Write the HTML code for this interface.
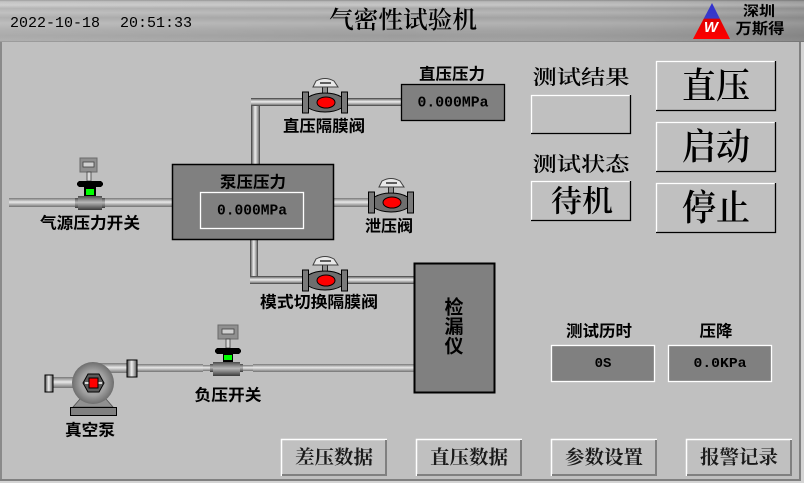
<!DOCTYPE html>
<html><head><meta charset="utf-8">
<style>
html,body{margin:0;padding:0;background:#d4d4d4;}
svg{display:block;}
.s{font-family:"Liberation Sans","Noto Sans CJK SC",sans-serif;font-weight:700;fill:#000;}
.r{font-family:"Liberation Serif","Noto Serif CJK SC",serif;fill:#111;}
.m{font-family:"Liberation Mono","Noto Sans CJK SC",monospace;fill:#000;}
</style></head>
<body>
<svg width="804" height="483" viewBox="0 0 804 483" xmlns="http://www.w3.org/2000/svg">
<defs>
 <linearGradient id="hdr" x1="0" y1="0" x2="0" y2="1">
  <stop offset="0" stop-color="#8c8c8c"/><stop offset="0.04" stop-color="#b8b8b8"/>
  <stop offset="0.12" stop-color="#c6c6c6"/><stop offset="0.2" stop-color="#a8a8a8"/>
  <stop offset="0.3" stop-color="#b6b6b6"/><stop offset="0.42" stop-color="#a2a2a2"/>
  <stop offset="0.55" stop-color="#b2b2b2"/><stop offset="0.7" stop-color="#a4a4a4"/>
  <stop offset="0.85" stop-color="#9c9c9c"/><stop offset="0.97" stop-color="#a2a2a2"/>
  <stop offset="1" stop-color="#7c7c7c"/>
 </linearGradient>
 <linearGradient id="hdr2" x1="0" y1="0" x2="1" y2="0">
  <stop offset="0" stop-color="#fff" stop-opacity="0.15"/>
  <stop offset="0.5" stop-color="#fff" stop-opacity="0"/>
  <stop offset="1" stop-color="#000" stop-opacity="0.15"/>
 </linearGradient>
 <linearGradient id="ph" x1="0" y1="0" x2="0" y2="1">
  <stop offset="0" stop-color="#383838"/><stop offset="0.15" stop-color="#828282"/>
  <stop offset="0.45" stop-color="#ececec"/><stop offset="0.6" stop-color="#cccccc"/>
  <stop offset="0.85" stop-color="#828282"/><stop offset="1" stop-color="#383838"/>
 </linearGradient>
 <linearGradient id="ph2" x1="0" y1="0" x2="0" y2="1">
  <stop offset="0" stop-color="#787878"/><stop offset="0.45" stop-color="#e8e8e8"/>
  <stop offset="0.6" stop-color="#c8c8c8"/><stop offset="1" stop-color="#727272"/>
 </linearGradient>
 <linearGradient id="pv" x1="0" y1="0" x2="1" y2="0">
  <stop offset="0" stop-color="#383838"/><stop offset="0.15" stop-color="#828282"/>
  <stop offset="0.45" stop-color="#ececec"/><stop offset="0.6" stop-color="#cccccc"/>
  <stop offset="0.85" stop-color="#828282"/><stop offset="1" stop-color="#383838"/>
 </linearGradient>
 <linearGradient id="sw" x1="0" y1="0" x2="0" y2="1">
  <stop offset="0" stop-color="#4a4a4a"/><stop offset="0.45" stop-color="#b8b8b8"/>
  <stop offset="1" stop-color="#3a3a3a"/>
 </linearGradient>
 <radialGradient id="pump" cx="0.5" cy="0.5" r="0.5">
  <stop offset="0" stop-color="#b8b8b8"/><stop offset="0.6" stop-color="#a0a0a0"/>
  <stop offset="1" stop-color="#6e6e6e"/>
 </radialGradient>
 <linearGradient id="tri" x1="0" y1="0" x2="0" y2="1">
  <stop offset="0" stop-color="#3030d0"/><stop offset="0.42" stop-color="#3a3ac8"/>
  <stop offset="0.45" stop-color="#e00000"/><stop offset="1" stop-color="#ff0000"/>
 </linearGradient>
</defs>

<!-- header -->
<rect x="0" y="0" width="804" height="42" fill="url(#hdr)"/>
<rect x="0" y="0" width="804" height="42" fill="url(#hdr2)"/>
<text class="m" x="10" y="27" font-size="15" textLength="90" lengthAdjust="spacingAndGlyphs">2022-10-18</text>
<text class="m" x="120" y="27" font-size="15" textLength="72" lengthAdjust="spacingAndGlyphs">20:51:33</text>
<text class="r" x="403" y="21" font-size="24" font-weight="600" text-anchor="middle" dominant-baseline="central" textLength="148" lengthAdjust="spacingAndGlyphs" style="fill:#000">气密性试验机</text>
<polygon points="712,3 730,39 693,39" fill="url(#tri)"/>
<text x="711" y="32" font-family="Liberation Sans,sans-serif" font-size="15" font-weight="700" font-style="italic" fill="#fff" text-anchor="middle">W</text>
<text class="s" x="759" y="11" font-size="14" text-anchor="middle" dominant-baseline="central" textLength="32" lengthAdjust="spacingAndGlyphs" font-weight="500">深圳</text>
<text class="s" x="760" y="29" font-size="15" text-anchor="middle" dominant-baseline="central" textLength="49" lengthAdjust="spacingAndGlyphs" font-weight="500">万斯得</text>

<!-- body -->
<rect x="0" y="42" width="801" height="439" fill="#c0c0c0"/>
<rect x="0" y="42" width="2" height="439" fill="#8a8a8a"/>
<rect x="799" y="42" width="2" height="439" fill="#808080"/>
<rect x="0" y="479" width="801" height="2" fill="#808080"/>

<!-- pipes -->
<rect x="9" y="198" width="163" height="9" fill="url(#ph2)"/>
<rect x="251" y="98" width="9" height="66" fill="url(#pv)"/>
<rect x="251" y="98" width="150" height="8" fill="url(#ph)"/>
<rect x="334" y="198" width="36" height="9" fill="url(#ph2)"/>
<rect x="250" y="240" width="8" height="44" fill="url(#pv)"/>
<rect x="250" y="276" width="164" height="8" fill="url(#ph)"/>
<rect x="253" y="364" width="161" height="8" fill="url(#ph2)"/>
<rect x="203" y="365" width="50" height="6" fill="url(#ph2)"/>
<rect x="137" y="364" width="66" height="8" fill="url(#ph2)"/>
<rect x="93" y="363" width="34" height="10" fill="url(#ph2)"/>
<rect x="52" y="377" width="41" height="11" fill="url(#ph2)"/>
<rect x="127" y="360" width="10" height="17" fill="url(#pv)" stroke="#000" stroke-width="1"/>
<rect x="45" y="375" width="8" height="17" fill="url(#pv)" stroke="#000" stroke-width="1"/>

<!-- pump -->
<polygon points="80,399 106,399 113,407 73,407" fill="#909090" stroke="#505050" stroke-width="0.8"/>
<rect x="70.5" y="407.5" width="46" height="8" fill="#808080" stroke="#000"/>
<circle cx="93" cy="383" r="21" fill="url(#pump)"/>
<polygon points="83,383 88,374 99,374 104,383 99,392 88,392" fill="#5a5a5a" stroke="#000"/>
<line x1="85" y1="383" x2="102" y2="383" stroke="#fff" stroke-width="1.5"/>
<rect x="89" y="378" width="9" height="10" fill="#ff0000" stroke="#000"/>

<!-- switch 1 -->
<g transform="translate(90,202)">
 <rect x="-10" y="-44" width="17" height="14" fill="#909090" stroke="#6a6a6a"/>
 <rect x="-7" y="-40" width="11" height="5" fill="#d0d0d0" stroke="#404040" stroke-width="0.8"/>
 <rect x="-3" y="-30" width="4" height="9" fill="#d8d8d8" stroke="#404040" stroke-width="0.8"/>
 <path d="M-13,-19 L-11,-21 L11,-21 L13,-19 L13,-17 L11,-15 L-11,-15 L-13,-17 Z" fill="#000"/>
 <rect x="-6" y="-15" width="12" height="9" fill="#000"/>
 <rect x="-4" y="-13" width="8" height="6" fill="#00ff00"/>
 <rect x="-15" y="-4" width="3" height="10" fill="url(#sw)"/>
 <rect x="12" y="-4" width="3" height="10" fill="url(#sw)"/>
 <rect x="-12" y="-6" width="24" height="14" fill="url(#sw)"/>
</g>
<!-- switch 2 -->
<g transform="translate(227,368)">
 <rect x="-9" y="-43" width="20" height="14" fill="#909090" stroke="#6a6a6a"/>
 <rect x="-5" y="-39" width="12" height="5" fill="#d0d0d0" stroke="#404040" stroke-width="0.8"/>
 <rect x="-1" y="-29" width="4" height="9" fill="#d8d8d8" stroke="#404040" stroke-width="0.8"/>
 <path d="M-12,-18 L-10,-20 L12,-20 L14,-18 L14,-16 L12,-14 L-10,-14 L-12,-16 Z" fill="#000"/>
 <rect x="-4" y="-14" width="10" height="8" fill="#000"/>
 <rect x="-3" y="-13" width="8" height="5" fill="#00ff00"/>
 <rect x="-17" y="-4" width="3" height="8" fill="url(#sw)"/>
 <rect x="13" y="-4" width="3" height="8" fill="url(#sw)"/>
 <rect x="-14" y="-6" width="27" height="14" fill="url(#sw)"/>
</g>

<!-- valves -->
<g transform="translate(325,102)">
 <rect x="-22.5" y="-10" width="6" height="21" fill="#7a7a7a" stroke="#000"/>
 <rect x="16.5" y="-10" width="6" height="21" fill="#7a7a7a" stroke="#000"/>
 <path d="M-16.5,-5 Q-10,-9 0,-9 Q10,-9 16.5,-5 L16.5,6 Q10,10 0,10 Q-10,10 -16.5,6 Z" fill="#6e6e6e" stroke="#000"/>
 <ellipse cx="1" cy="0.5" rx="9" ry="5.5" fill="#ff0000" stroke="#000"/>
 <rect x="-2.5" y="-15" width="5" height="6" fill="#909090" stroke="#000" stroke-width="0.8"/>
 <path d="M-12,-15 L-9,-21 Q0,-26 9,-21 L13,-15 Z" fill="#e8e8e8" stroke="#404040"/>
 <line x1="-5" y1="-19" x2="6" y2="-19" stroke="#303030" stroke-width="1.5"/>
</g>
<g transform="translate(391,202)">
 <rect x="-22.5" y="-10" width="6" height="21" fill="#7a7a7a" stroke="#000"/>
 <rect x="16.5" y="-10" width="6" height="21" fill="#7a7a7a" stroke="#000"/>
 <path d="M-16.5,-5 Q-10,-9 0,-9 Q10,-9 16.5,-5 L16.5,6 Q10,10 0,10 Q-10,10 -16.5,6 Z" fill="#6e6e6e" stroke="#000"/>
 <ellipse cx="1" cy="0.5" rx="9" ry="5.5" fill="#ff0000" stroke="#000"/>
 <rect x="-2.5" y="-15" width="5" height="6" fill="#909090" stroke="#000" stroke-width="0.8"/>
 <path d="M-12,-15 L-9,-21 Q0,-26 9,-21 L13,-15 Z" fill="#e8e8e8" stroke="#404040"/>
 <line x1="-5" y1="-19" x2="6" y2="-19" stroke="#303030" stroke-width="1.5"/>
</g>
<g transform="translate(325,280)">
 <rect x="-22.5" y="-10" width="6" height="21" fill="#7a7a7a" stroke="#000"/>
 <rect x="16.5" y="-10" width="6" height="21" fill="#7a7a7a" stroke="#000"/>
 <path d="M-16.5,-5 Q-10,-9 0,-9 Q10,-9 16.5,-5 L16.5,6 Q10,10 0,10 Q-10,10 -16.5,6 Z" fill="#6e6e6e" stroke="#000"/>
 <ellipse cx="1" cy="0.5" rx="9" ry="5.5" fill="#ff0000" stroke="#000"/>
 <rect x="-2.5" y="-15" width="5" height="6" fill="#909090" stroke="#000" stroke-width="0.8"/>
 <path d="M-12,-15 L-9,-21 Q0,-26 9,-21 L13,-15 Z" fill="#e8e8e8" stroke="#404040"/>
 <line x1="-5" y1="-19" x2="6" y2="-19" stroke="#303030" stroke-width="1.5"/>
</g>

<!-- boxes -->
<rect x="172.5" y="164.5" width="161" height="75" fill="#808080" stroke="#000" stroke-width="1.5"/>
<text class="s" x="253" y="183" font-size="16" text-anchor="middle" dominant-baseline="central" textLength="66" lengthAdjust="spacingAndGlyphs">泵压压力</text>
<rect x="200.5" y="192.5" width="103" height="36" fill="none" stroke="#fff" stroke-width="1.3"/>
<text class="m" x="252" y="211" font-size="15" font-weight="700" text-anchor="middle" dominant-baseline="central" textLength="70" lengthAdjust="spacingAndGlyphs">0.000MPa</text>

<rect x="401.5" y="84.5" width="103" height="36" fill="#808080" stroke="#000" stroke-width="1.3"/>
<text class="m" x="453" y="103" font-size="15" font-weight="700" text-anchor="middle" dominant-baseline="central" textLength="71" lengthAdjust="spacingAndGlyphs">0.000MPa</text>
<text class="s" x="452" y="75" font-size="16" text-anchor="middle" dominant-baseline="central" textLength="66" lengthAdjust="spacingAndGlyphs">直压压力</text>

<rect x="414.5" y="263.5" width="80" height="129" fill="#808080" stroke="#000" stroke-width="2"/>
<text class="s" x="454" y="308" font-size="19" text-anchor="middle" dominant-baseline="central">检</text>
<text class="s" x="454" y="327.5" font-size="19" text-anchor="middle" dominant-baseline="central">漏</text>
<text class="s" x="454" y="347" font-size="19" text-anchor="middle" dominant-baseline="central">仪</text>

<!-- labels -->
<text class="s" x="324" y="127" font-size="16" text-anchor="middle" dominant-baseline="central" textLength="82" lengthAdjust="spacingAndGlyphs">直压隔膜阀</text>
<text class="s" x="90" y="224" font-size="16" text-anchor="middle" dominant-baseline="central" textLength="100" lengthAdjust="spacingAndGlyphs">气源压力开关</text>
<text class="s" x="389" y="227" font-size="16" text-anchor="middle" dominant-baseline="central" textLength="48" lengthAdjust="spacingAndGlyphs">泄压阀</text>
<text class="s" x="319" y="303" font-size="16" text-anchor="middle" dominant-baseline="central" textLength="118" lengthAdjust="spacingAndGlyphs">模式切换隔膜阀</text>
<text class="s" x="228" y="396" font-size="16" font-weight="500" text-anchor="middle" dominant-baseline="central" textLength="67" lengthAdjust="spacingAndGlyphs">负压开关</text>
<text class="s" x="90" y="431" font-size="16" font-weight="500" text-anchor="middle" dominant-baseline="central" textLength="50" lengthAdjust="spacingAndGlyphs">真空泵</text>

<!-- right panel -->
<text class="r" x="581" y="78" font-size="20" font-weight="600" text-anchor="middle" dominant-baseline="central" textLength="97" lengthAdjust="spacingAndGlyphs" style="fill:#000">测试结果</text>
<path d="M531.5,134 V95.5 H631" fill="none" stroke="#fff" stroke-width="1.3"/>
<path d="M531,133.5 H630.5 V95" fill="none" stroke="#000" stroke-width="1.3"/>
<text class="r" x="581" y="165" font-size="20" font-weight="600" text-anchor="middle" dominant-baseline="central" textLength="97" lengthAdjust="spacingAndGlyphs" style="fill:#000">测试状态</text>
<path d="M531.5,221 V181.5 H631" fill="none" stroke="#fff" stroke-width="1.3"/>
<path d="M531,220.5 H630.5 V181" fill="none" stroke="#000" stroke-width="1.3"/>
<text class="r" x="582" y="202" font-size="30" font-weight="600" text-anchor="middle" dominant-baseline="central" textLength="62" lengthAdjust="spacingAndGlyphs" style="fill:#000">待机</text>

<g>
 <path d="M656.5,111 V61.5 H776" fill="none" stroke="#fff" stroke-width="1.3"/>
 <path d="M656,110.5 H775.5 V61" fill="none" stroke="#000" stroke-width="1.3"/>
 <text class="r" x="716" y="86" font-size="36" font-weight="600" text-anchor="middle" dominant-baseline="central" textLength="68" lengthAdjust="spacingAndGlyphs" style="fill:#000">直压</text>
 <path d="M656.5,172 V122.5 H776" fill="none" stroke="#fff" stroke-width="1.3"/>
 <path d="M656,171.5 H775.5 V122" fill="none" stroke="#000" stroke-width="1.3"/>
 <text class="r" x="716" y="147" font-size="36" font-weight="600" text-anchor="middle" dominant-baseline="central" textLength="68" lengthAdjust="spacingAndGlyphs" style="fill:#000">启动</text>
 <path d="M656.5,233 V183.5 H776" fill="none" stroke="#fff" stroke-width="1.3"/>
 <path d="M656,232.5 H775.5 V183" fill="none" stroke="#000" stroke-width="1.3"/>
 <text class="r" x="716" y="208" font-size="36" font-weight="600" text-anchor="middle" dominant-baseline="central" textLength="68" lengthAdjust="spacingAndGlyphs" style="fill:#000">停止</text>
</g>

<text class="s" x="599" y="332" font-size="16" text-anchor="middle" dominant-baseline="central" textLength="66" lengthAdjust="spacingAndGlyphs">测试历时</text>
<text class="s" x="716" y="332" font-size="16" text-anchor="middle" dominant-baseline="central" textLength="33" lengthAdjust="spacingAndGlyphs">压降</text>
<rect x="551.5" y="345.5" width="103" height="36" fill="#808080" stroke="#fff" stroke-width="1.3"/>
<text class="m" x="603" y="364" font-size="14" font-weight="700" text-anchor="middle" dominant-baseline="central">0S</text>
<rect x="668.5" y="345.5" width="103" height="36" fill="#808080" stroke="#fff" stroke-width="1.3"/>
<text class="m" x="720" y="364" font-size="14" font-weight="700" text-anchor="middle" dominant-baseline="central" textLength="53" lengthAdjust="spacingAndGlyphs">0.0KPa</text>

<!-- bottom buttons -->
<g>
 <path d="M281.5,476 V439.5 H387" fill="none" stroke="#fff" stroke-width="1.5"/>
 <path d="M282,475 H386 V440" fill="none" stroke="#808080" stroke-width="2"/>
 <text class="r" x="334" y="458" font-size="19" font-weight="700" text-anchor="middle" dominant-baseline="central" textLength="78" lengthAdjust="spacingAndGlyphs" style="fill:#1a1a1a">差压数据</text>
 <path d="M416.5,476 V439.5 H522" fill="none" stroke="#fff" stroke-width="1.5"/>
 <path d="M417,475 H521 V440" fill="none" stroke="#808080" stroke-width="2"/>
 <text class="r" x="469" y="458" font-size="19" font-weight="700" text-anchor="middle" dominant-baseline="central" textLength="78" lengthAdjust="spacingAndGlyphs" style="fill:#1a1a1a">直压数据</text>
 <path d="M551.5,476 V439.5 H657" fill="none" stroke="#fff" stroke-width="1.5"/>
 <path d="M552,475 H656 V440" fill="none" stroke="#808080" stroke-width="2"/>
 <text class="r" x="604" y="458" font-size="19" font-weight="700" text-anchor="middle" dominant-baseline="central" textLength="78" lengthAdjust="spacingAndGlyphs" style="fill:#1a1a1a">参数设置</text>
 <path d="M686.5,476 V439.5 H792" fill="none" stroke="#fff" stroke-width="1.5"/>
 <path d="M687,475 H791 V440" fill="none" stroke="#808080" stroke-width="2"/>
 <text class="r" x="739" y="458" font-size="19" font-weight="700" text-anchor="middle" dominant-baseline="central" textLength="78" lengthAdjust="spacingAndGlyphs" style="fill:#1a1a1a">报警记录</text>
</g>
</svg>
</body></html>
